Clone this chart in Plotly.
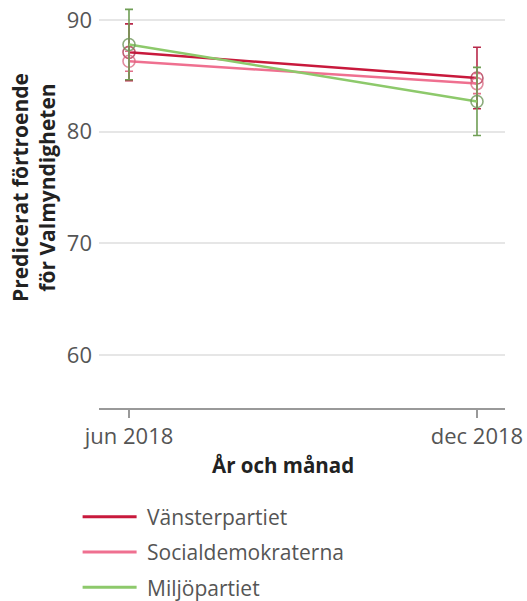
import plotly.graph_objects as go

months = ["jun 2018", "dec 2018"]
parties = ["Vänsterpartiet", "Socialdemokraterna", "Miljöpartiet"]
v_vals = [87.1, 84.8]
v_err = [2.55, 2.75]
s_vals = [86.3, 84.3]
s_err = [0.9, 0.9]
mp_vals = [87.8, 82.7]
mp_err = [3.15, 3.05]

values = [v_vals, s_vals, mp_vals]
errors = [v_err, s_err, mp_err]
line_colors = ["#c8193c", "#ef7090", "#8dc96b"]
err_colors = ["#b8294a", "#e0708a", "#6f9e55"]
marker_colors = ["rgba(170,40,70,0.75)", "rgba(215,100,125,0.75)", "rgba(110,150,90,0.8)"]

FONT = "Open Sans"
fig = go.Figure()

for name, vals, errs, lc, ec, mc in zip(parties, values, errors, line_colors, err_colors, marker_colors):
    fig.add_trace(go.Scatter(
        x=months, y=vals, mode="lines+markers", name=name, showlegend=False,
        line=dict(color=lc, width=2.5),
        marker=dict(symbol="circle-open", size=12, color=mc, line=dict(width=1.6, color=mc)),
        error_y=dict(type="data", array=errs, visible=True, color=ec, thickness=1.6, width=4),
    ))

for i, (name, lc) in enumerate(zip(parties, line_colors)):
    fig.add_trace(go.Scatter(
        x=[None], y=[None], mode="lines", name="\u00a0" + name, legendgroup=f"g{i}",
        line=dict(color=lc, width=3), hoverinfo="skip",
    ))

fig.update_layout(
    width=527, height=601,
    margin=dict(l=99, r=22, t=8, b=193, autoexpand=False),
    plot_bgcolor="white", paper_bgcolor="white",
    font=dict(family=FONT, size=21, color="#555555"),
    showlegend=True,
    legend=dict(
        x=-0.0527, y=-0.2215, xanchor="left", yanchor="top",
        font=dict(family=FONT, size=21, color="#555555"),
        itemwidth=54, tracegroupgap=5, bgcolor="rgba(0,0,0,0)",
    ),
    xaxis=dict(
        type="category", range=[-0.0862, 1.0805], automargin=False,
        showgrid=False, showline=True, linecolor="#999999", linewidth=1.5,
        ticks="outside", ticklen=8, tickcolor="#999999", tickwidth=1.5,
        tickfont=dict(family=FONT, size=22, color="#555555"),
        ticklabeloverflow="allow", zeroline=False,
    ),
    yaxis=dict(
        range=[55.25, 91.07], automargin=False,
        tickvals=[60, 70, 80, 90],
        showgrid=True, gridcolor="#e6e6e6", gridwidth=1.5,
        showline=False, zeroline=False, ticks="",
        ticklabelstandoff=6, ticklabeloverflow="allow",
        tickfont=dict(family=FONT, size=22, color="#555555"),
    ),
    annotations=[
        dict(text="<b>År och månad</b>", xref="paper", yref="paper",
             x=0.453, y=-0.1425, xanchor="center", yanchor="middle", showarrow=False,
             font=dict(family=FONT, size=20.5, color="#222222")),
        dict(text="<b>Predicerat förtroende<br>för Valmyndigheten</b>", xref="paper", yref="paper",
             x=-0.16, y=0.55, xanchor="center", yanchor="middle", showarrow=False, textangle=-90,
             font=dict(family=FONT, size=21, color="#222222")),
    ],
)

fig.write_html("out.html", config={"displayModeBar": False},
               post_script="document.body.style.margin='0';document.body.style.overflow='hidden';")
